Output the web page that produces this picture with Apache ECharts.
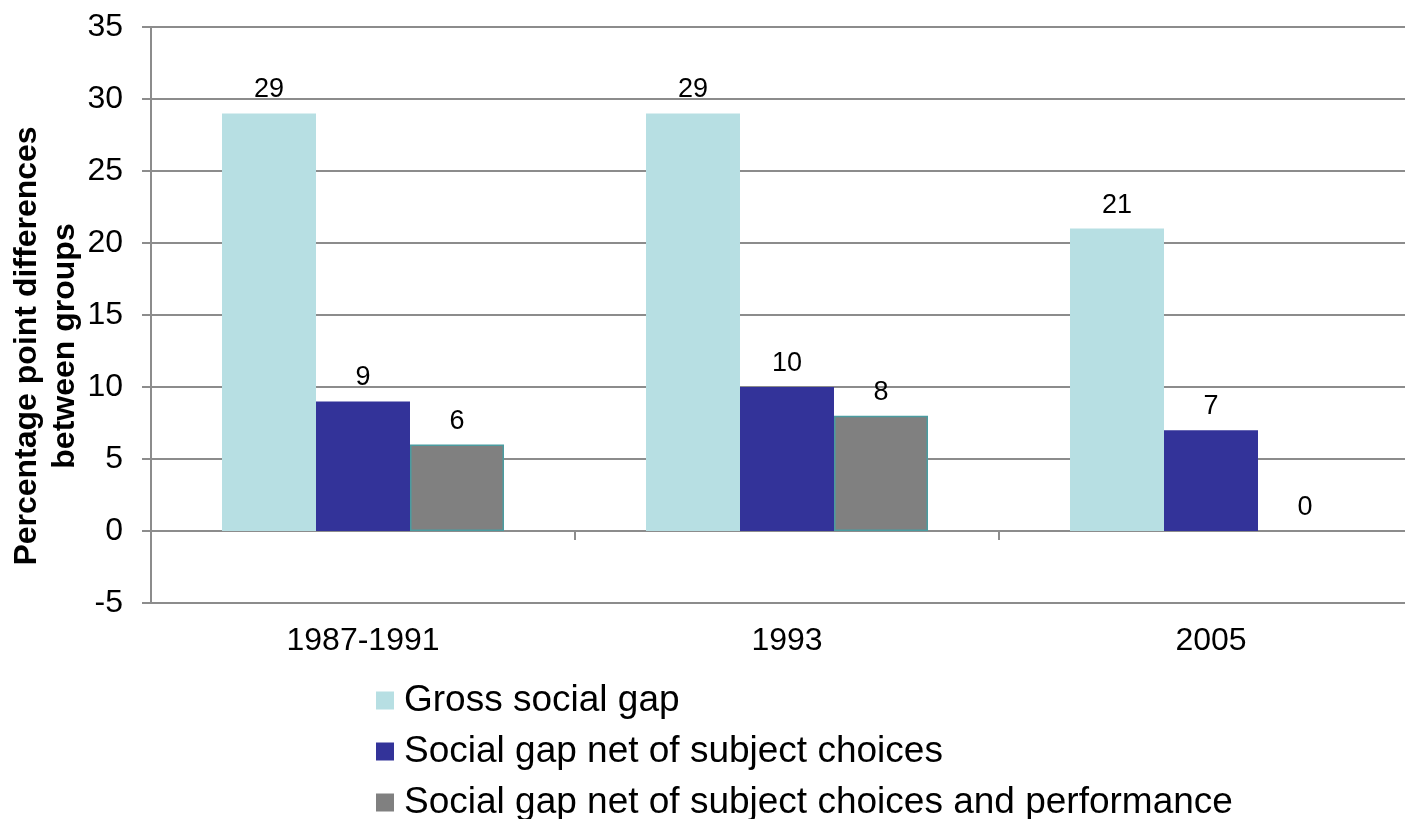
<!DOCTYPE html>
<html>
<head>
<meta charset="utf-8">
<script src="https://cdn.jsdelivr.net/npm/echarts@6/dist/echarts.min.js"></script>
<style>
html,body{margin:0;padding:0;background:#fff;}
#chart{width:1405px;height:819px;}
</style>
</head>
<body>
<div id="chart"></div>
<script>
const categories = ['1987-1991', '1993', '2005'];
const seriesNames = ['Gross social gap', 'Social gap net of subject choices', 'Social gap net of subject choices and performance'];
const grossGap = [29, 29, 21];
const netChoices = [9, 10, 7];
const netChoicesPerf = [6, 8, 0];
const yTicks = { min: -5, max: 35, interval: 5 };
const yTitle = 'Percentage point differences\nbetween groups';

const FONT = 'Liberation Sans, Arial, sans-serif';
const colors = ['#b7dfe3', '#333399', '#808080'];
const borders = ['#b7dfe3', '#333399', '#4a9ca0'];
const allValues = [grossGap, netChoices, netChoicesPerf];

const chart = echarts.init(document.getElementById('chart'), null, {renderer: 'canvas'});

const series = allValues.map((vals, i) => ({
  name: seriesNames[i],
  type: 'bar',
  xAxisIndex: 0,
  barWidth: 94,
  barGap: '0%',
  data: vals.map(v => v === 0 ? {value: v, itemStyle: {borderWidth: 0}} : v),
  itemStyle: {color: colors[i], borderColor: borders[i], borderWidth: i === 2 ? 1.5 : 0},
  label: {show: true, position: 'top', distance: 10, color: '#000', fontSize: 27, fontFamily: FONT},
  emphasis: {disabled: true}
}));

chart.setOption({
  animation: false,
  backgroundColor: '#fff',
  grid: {left: 151, top: 27, width: 1272, bottom: 216, containLabel: false, outerBoundsMode: 'none'},
  legend: {
    orient: 'vertical', left: 376, top: 682, height: 200, width: 1000, padding: 0,
    itemWidth: 18, itemHeight: 18, itemGap: 14,
    icon: 'rect',
    itemStyle: {borderWidth: 0},
    textStyle: {fontSize: 37, fontFamily: FONT, color: '#000', lineHeight: 34, padding: [0,0,0,5]},
    data: seriesNames
  },
  graphic: [{
    type: 'text',
    rotation: Math.PI / 2,
    x: 46, y: 346,
    style: {text: yTitle, font: 'bold 32px ' + FONT, fill: '#000', textAlign: 'center', textVerticalAlign: 'middle', lineHeight: 38}
  }],
  xAxis: [{
    type: 'category', data: categories,
    axisLine: {show: true, onZero: true, lineStyle: {color: '#8c8c8c', width: 2}},
    axisTick: {show: true, length: 9, lineStyle: {color: '#8c8c8c', width: 2}},
    axisLabel: {show: false},
    splitLine: {show: false}
  }, {
    type: 'category', data: categories, position: 'bottom',
    axisLine: {show: false, onZero: false},
    axisTick: {show: false},
    axisLabel: {show: true, fontSize: 32, fontFamily: FONT, color: '#000', margin: 22}
  }],
  yAxis: {
    type: 'value', min: yTicks.min, max: yTicks.max, interval: yTicks.interval,
    axisLine: {show: true, lineStyle: {color: '#8c8c8c', width: 2}},
    axisTick: {show: true, length: 9, lineStyle: {color: '#8c8c8c', width: 2}},
    axisLabel: {fontSize: 32, fontFamily: FONT, color: '#000', margin: 28},
    splitLine: {show: true, lineStyle: {color: '#8c8c8c', width: 2}}
  },
  series: series
});
</script>
</body>
</html>
